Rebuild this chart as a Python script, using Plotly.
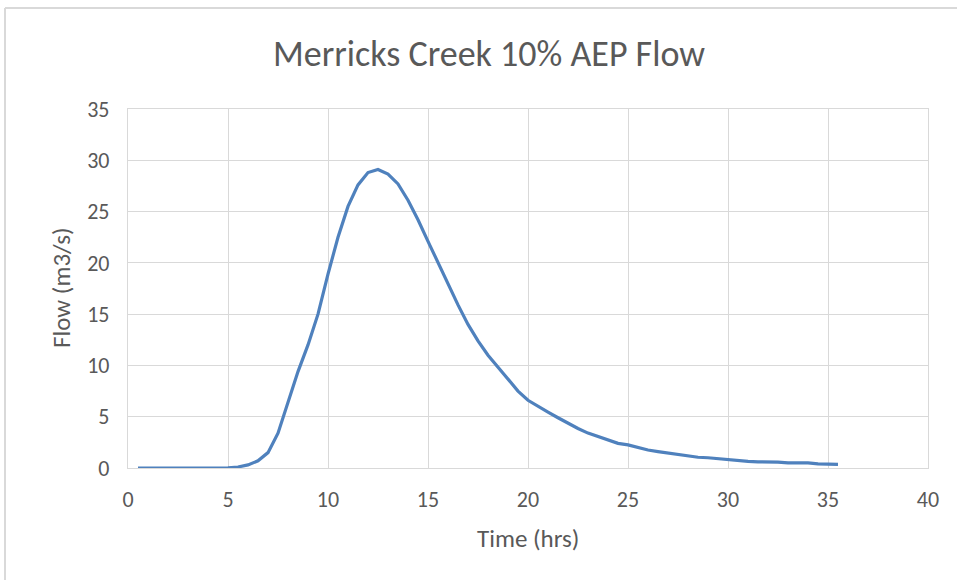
import plotly.graph_objects as go

# Hydrograph for Merricks Creek, 10% AEP event (half-hourly values)
time_hrs = [0.5, 1.0, 1.5, 2.0, 2.5, 3.0, 3.5, 4.0, 4.5, 5.0,
            5.5, 6.0, 6.5, 7.0, 7.5, 8.0, 8.5, 9.0, 9.5, 10.0,
            10.5, 11.0, 11.5, 12.0, 12.5, 13.0, 13.5, 14.0, 14.5, 15.0,
            15.5, 16.0, 16.5, 17.0, 17.5, 18.0, 18.5, 19.0, 19.5, 20.0,
            20.5, 21.0, 21.5, 22.0, 22.5, 23.0, 23.5, 24.0, 24.5, 25.0,
            25.5, 26.0, 26.5, 27.0, 27.5, 28.0, 28.5, 29.0, 29.5, 30.0,
            30.5, 31.0, 31.5, 32.0, 32.5, 33.0, 33.5, 34.0, 34.5, 35.0,
            35.5]
flow_m3s = [0.0, 0.0, 0.0, 0.0, 0.0, 0.0, 0.0, 0.0, 0.0, 0.02,
            0.1, 0.3, 0.7, 1.5, 3.4, 6.3, 9.4, 12.0, 15.0, 18.9,
            22.5, 25.5, 27.6, 28.8, 29.1, 28.65, 27.7, 26.1, 24.2, 22.1,
            20.0, 17.9, 15.9, 14.0, 12.4, 11.0, 9.8, 8.6, 7.5, 6.6,
            6.0, 5.45, 4.9, 4.35, 3.85, 3.4, 3.05, 2.75, 2.4, 2.25,
            2.0, 1.75, 1.6, 1.45, 1.3, 1.2, 1.05, 1.0, 0.9, 0.8,
            0.7, 0.65, 0.6, 0.6, 0.58, 0.5, 0.5, 0.5, 0.4, 0.35,
            0.35]

x_ticks = [0, 5, 10, 15, 20, 25, 30, 35, 40]
y_ticks = [0, 5, 10, 15, 20, 25, 30, 35]

FONT = "Carlito, Calibri, Lato, sans-serif"
TEXT_GREY = "#595959"
GRID_GREY = "#d9d9d9"

fig = go.Figure(
    go.Scatter(
        x=time_hrs,
        y=flow_m3s,
        mode="lines",
        line=dict(color="#4F81BD", width=3.2),
        showlegend=False,
    )
)

axis_common = dict(
    showgrid=True,
    gridcolor=GRID_GREY,
    gridwidth=1.3,
    zeroline=False,
    showline=True,
    mirror=True,
    linecolor=GRID_GREY,
    linewidth=1.3,
    ticks="",
    tickfont=dict(family=FONT, size=22, color=TEXT_GREY),
)

fig.update_xaxes(range=[0, 40], tickvals=x_ticks, ticklabelstandoff=11, **axis_common)
fig.update_yaxes(range=[0, 35], tickvals=y_ticks, ticklabelstandoff=13, **axis_common)

fig.update_layout(
    width=957,
    height=580,
    margin=dict(l=128, r=29, t=109, b=112),
    paper_bgcolor="white",
    plot_bgcolor="white",
    font=dict(family=FONT, color=TEXT_GREY),
    title=dict(
        text="Merricks Creek 10% AEP Flow",
        x=489 / 957,
        xanchor="center",
        xref="container",
        y=1 - 53 / 580,
        yanchor="middle",
        yref="container",
        font=dict(family=FONT, size=36, color=TEXT_GREY),
    ),
    annotations=[
        dict(
            text="Time (hrs)", xref="paper", yref="paper",
            x=0.5, y=(468 - 538) / 359, xanchor="center", yanchor="middle",
            showarrow=False, font=dict(family=FONT, size=25, color=TEXT_GREY),
        ),
        dict(
            text="Flow (m3/s)", xref="paper", yref="paper",
            x=(61 - 128) / 800, y=(468 - 288) / 359, xanchor="center", yanchor="middle",
            textangle=-90, showarrow=False,
            font=dict(family=FONT, size=25, color=TEXT_GREY),
        ),
    ],
    shapes=[
        # chart-area border (left and top edges)
        dict(type="line", xref="paper", yref="paper",
             x0=(5 - 128) / 800, x1=(5 - 128) / 800,
             y0=(468 - 600) / 359, y1=(468 - 8) / 359,
             line=dict(color=GRID_GREY, width=2)),
        dict(type="line", xref="paper", yref="paper",
             x0=(5 - 128) / 800, x1=(970 - 128) / 800,
             y0=(468 - 8) / 359, y1=(468 - 8) / 359,
             line=dict(color=GRID_GREY, width=2)),
    ],
)

fig.write_html("out.html")
